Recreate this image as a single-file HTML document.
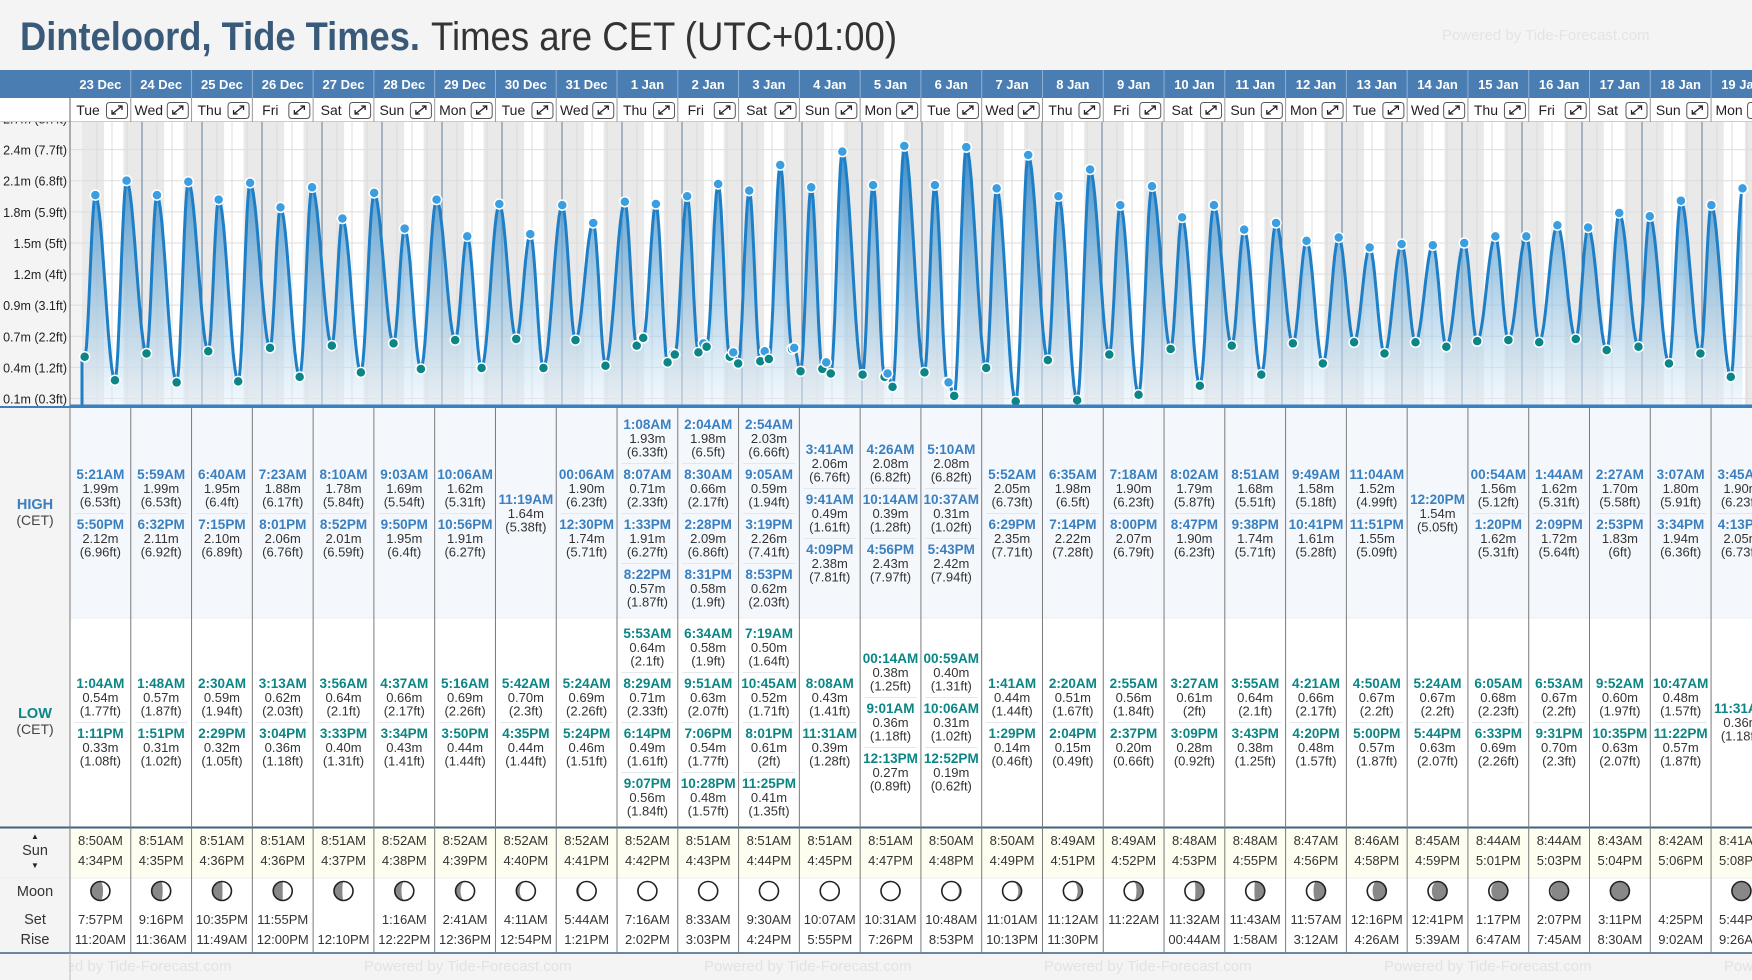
<!DOCTYPE html>
<html><head><meta charset="utf-8">
<style>
html,body{margin:0;padding:0;background:#f4f4f4;}
svg{display:block;font-family:"Liberation Sans",Arial,sans-serif;}
</style></head>
<body>
<svg id="root" xmlns="http://www.w3.org/2000/svg" width="1752" height="980" viewBox="0 0 1752 980">
<defs>
<linearGradient id="fillGrad" x1="0" y1="0" x2="0" y2="1">
<stop offset="0" stop-color="#2f86c6" stop-opacity="0.95"/>
<stop offset="0.55" stop-color="#7fb6dc" stop-opacity="0.6"/>
<stop offset="1" stop-color="#e6f2fb" stop-opacity="0.5"/>
</linearGradient>
<clipPath id="plotClip"><rect x="70" y="122" width="1682" height="284"/></clipPath>
<clipPath id="axisClip"><rect x="0" y="122" width="70" height="284"/></clipPath>
</defs>
<rect x="0" y="0" width="1752" height="980" fill="#f4f4f4"/>
<text x="20" y="50" font-size="40" font-weight="bold" fill="#3a5a7a" textLength="400" lengthAdjust="spacingAndGlyphs">Dinteloord, Tide Times.</text>
<text x="431" y="50" font-size="40" fill="#333" textLength="466" lengthAdjust="spacingAndGlyphs">Times are CET (UTC+01:00)</text>
<text x="1442" y="40" font-size="15" fill="#e4e4e4">Powered by Tide-Forecast.com</text>
<g id="chart"></g>
</svg>
<script>
const dates=['23 Dec','24 Dec','25 Dec','26 Dec','27 Dec','28 Dec','29 Dec','30 Dec','31 Dec','1 Jan','2 Jan','3 Jan','4 Jan','5 Jan','6 Jan','7 Jan','8 Jan','9 Jan','10 Jan','11 Jan','12 Jan','13 Jan','14 Jan','15 Jan','16 Jan','17 Jan','18 Jan','19 Jan'];
const weekdays=['Tue','Wed','Thu','Fri','Sat','Sun','Mon','Tue','Wed','Thu','Fri','Sat','Sun','Mon','Tue','Wed','Thu','Fri','Sat','Sun','Mon','Tue','Wed','Thu','Fri','Sat','Sun','Mon'];
const highTides=[
[['5:21AM',1.99],['5:50PM',2.12]],[['5:59AM',1.99],['6:32PM',2.11]],[['6:40AM',1.95],['7:15PM',2.10]],[['7:23AM',1.88],['8:01PM',2.06]],
[['8:10AM',1.78],['8:52PM',2.01]],[['9:03AM',1.69],['9:50PM',1.95]],[['10:06AM',1.62],['10:56PM',1.91]],[['11:19AM',1.64]],
[['00:06AM',1.90],['12:30PM',1.74]],[['1:08AM',1.93],['8:07AM',0.71],['1:33PM',1.91],['8:22PM',0.57]],
[['2:04AM',1.98],['8:30AM',0.66],['2:28PM',2.09],['8:31PM',0.58]],[['2:54AM',2.03],['9:05AM',0.59],['3:19PM',2.26],['8:53PM',0.62]],
[['3:41AM',2.06],['9:41AM',0.49],['4:09PM',2.38]],[['4:26AM',2.08],['10:14AM',0.39],['4:56PM',2.43]],[['5:10AM',2.08],['10:37AM',0.31],['5:43PM',2.42]],
[['5:52AM',2.05],['6:29PM',2.35]],[['6:35AM',1.98],['7:14PM',2.22]],[['7:18AM',1.90],['8:00PM',2.07]],[['8:02AM',1.79],['8:47PM',1.90]],
[['8:51AM',1.68],['9:38PM',1.74]],[['9:49AM',1.58],['10:41PM',1.61]],[['11:04AM',1.52],['11:51PM',1.55]],[['12:20PM',1.54]],
[['00:54AM',1.56],['1:20PM',1.62]],[['1:44AM',1.62],['2:09PM',1.72]],[['2:27AM',1.70],['2:53PM',1.83]],[['3:07AM',1.80],['3:34PM',1.94]],[['3:45AM',1.90],['4:13PM',2.05]]];
const lowTides=[
[['1:04AM',0.54],['1:11PM',0.33]],[['1:48AM',0.57],['1:51PM',0.31]],[['2:30AM',0.59],['2:29PM',0.32]],[['3:13AM',0.62],['3:04PM',0.36]],
[['3:56AM',0.64],['3:33PM',0.40]],[['4:37AM',0.66],['3:34PM',0.43]],[['5:16AM',0.69],['3:50PM',0.44]],[['5:42AM',0.70],['4:35PM',0.44]],
[['5:24AM',0.69],['5:24PM',0.46]],[['5:53AM',0.64],['8:29AM',0.71],['6:14PM',0.49],['9:07PM',0.56]],
[['6:34AM',0.58],['9:51AM',0.63],['7:06PM',0.54],['10:28PM',0.48]],[['7:19AM',0.50],['10:45AM',0.52],['8:01PM',0.61],['11:25PM',0.41]],
[['8:08AM',0.43],['11:31AM',0.39]],[['00:14AM',0.38],['9:01AM',0.36],['12:13PM',0.27]],[['00:59AM',0.40],['10:06AM',0.31],['12:52PM',0.19]],
[['1:41AM',0.44],['1:29PM',0.14]],[['2:20AM',0.51],['2:04PM',0.15]],[['2:55AM',0.56],['2:37PM',0.20]],[['3:27AM',0.61],['3:09PM',0.28]],
[['3:55AM',0.64],['3:43PM',0.38]],[['4:21AM',0.66],['4:20PM',0.48]],[['4:50AM',0.67],['5:00PM',0.57]],[['5:24AM',0.67],['5:44PM',0.63]],
[['6:05AM',0.68],['6:33PM',0.69]],[['6:53AM',0.67],['9:31PM',0.70]],[['9:52AM',0.60],['10:35PM',0.63]],[['10:47AM',0.48],['11:22PM',0.57]],[['11:31AM',0.36]]];
const sunrise=['8:50AM','8:51AM','8:51AM','8:51AM','8:51AM','8:52AM','8:52AM','8:52AM','8:52AM','8:52AM','8:51AM','8:51AM','8:51AM','8:51AM','8:50AM','8:50AM','8:49AM','8:49AM','8:48AM','8:48AM','8:47AM','8:46AM','8:45AM','8:44AM','8:44AM','8:43AM','8:42AM','8:41AM'];
const sunset=['4:34PM','4:35PM','4:36PM','4:36PM','4:37PM','4:38PM','4:39PM','4:40PM','4:41PM','4:42PM','4:43PM','4:44PM','4:45PM','4:47PM','4:48PM','4:49PM','4:51PM','4:52PM','4:53PM','4:55PM','4:56PM','4:58PM','4:59PM','5:01PM','5:03PM','5:04PM','5:06PM','5:08PM'];
const moonSet=['7:57PM','9:16PM','10:35PM','11:55PM','','1:16AM','2:41AM','4:11AM','5:44AM','7:16AM','8:33AM','9:30AM','10:07AM','10:31AM','10:48AM','11:01AM','11:12AM','11:22AM','11:32AM','11:43AM','11:57AM','12:16PM','12:41PM','1:17PM','2:07PM','3:11PM','4:25PM','5:44PM'];
const moonRise=['11:20AM','11:36AM','11:49AM','12:00PM','12:10PM','12:22PM','12:36PM','12:54PM','1:21PM','2:02PM','3:03PM','4:24PM','5:55PM','7:26PM','8:53PM','10:13PM','11:30PM','','00:44AM','1:58AM','3:12AM','4:26AM','5:39AM','6:47AM','7:45AM','8:30AM','9:02AM','9:26AM'];
const moonLit=[0.36,0.42,0.47,0.5,0.56,0.65,0.74,0.82,0.9,0.96,0.99,1.0,0.98,0.95,0.9,0.83,0.75,0.65,0.55,0.46,0.37,0.28,0.2,0.13,0.07,0.03,0,0.02];
const moonWaxing=[1,1,1,1,1,1,1,1,1,1,1,1,0,0,0,0,0,0,0,0,0,0,0,0,0,0,0,0];
const tickValues=[0.166,0.445,0.724,1.003,1.282,1.561,1.84,2.119,2.398,2.677];
const tickLabels=['0.1m (0.3ft)','0.4m (1.2ft)','0.7m (2.2ft)','0.9m (3.1ft)','1.2m (4ft)','1.5m (5ft)','1.8m (5.9ft)','2.1m (6.8ft)','2.4m (7.7ft)','2.7m (8.7ft)'];

const NS='http://www.w3.org/2000/svg';
const root=document.getElementById('chart');
function mk(tag,attrs,parent){const e=document.createElementNS(NS,tag);for(const k in attrs)e.setAttribute(k,attrs[k]);(parent||root).appendChild(e);return e;}
function txt(s,attrs,parent){const e=mk('text',attrs,parent);e.textContent=s;return e;}
function parseT(s){const m=s.match(/(\d+):(\d+)(AM|PM)/);let h=+m[1]%12;if(m[3]==='PM')h+=12;return (h+ +m[2]/60)/24;}
function ft(m){let v=Math.round(m*3.28084*100)/100;return '('+(+v.toFixed(2)).toString()+'ft)';}
const colX0=70,colW=60.78,chartX0=82,pxDay=60,plotTop=122,plotBot=406;
const xT=t=>chartX0+t*pxDay;
const yH=h=>417-h*111.5;
const colX=i=>colX0+i*colW;
const HIGH_C=513,LOW_C=722,PITCH=50;

let e=mk('rect',{x:0,y:70,width:1752,height:28,fill:'#4a7db2'});


e=mk('rect',{x:0,y:98,width:1752,height:24,fill:'#fff'});


mk('line',{x1:0,y1:122,x2:1752,y2:122,stroke:'#999','stroke-width':1});
e=mk('rect',{x:70,y:plotTop,width:1682,height:plotBot-plotTop,fill:'#f3f3f3'});


const plot=mk('g',{'clip-path':'url(#plotClip)'});


for(let i=0;i<dates.length+1;i++){
  const r=mk('rect',{x:xT(i),y:plotTop,width:pxDay,height:plotBot-plotTop,fill:'#e9e9e9'},plot);
  
  
  if(i<dates.length){
    const d=mk('rect',{x:xT(i+parseT(sunrise[i])),y:plotTop,width:(parseT(sunset[i])-parseT(sunrise[i]))*pxDay,height:plotBot-plotTop,fill:'#fff'},plot);
    
    
  }
}
for(let i=0;i<tickValues.length;i++){
  const g=mk('line',{x1:70,x2:1752,y1:yH(tickValues[i]),y2:yH(tickValues[i]),stroke:'#dedede','stroke-width':1},plot);
  
  
}
for(let i=0;i<=dates.length*4;i++){
  if(i%4===0)continue;
  const g=mk('line',{x1:xT(i/4),x2:xT(i/4),y1:plotTop,y2:plotBot,stroke:'#dcdcdc','stroke-width':1},plot);
  
  
}
for(let i=1;i<=dates.length;i++){
  const g=mk('line',{x1:xT(i),x2:xT(i),y1:plotTop,y2:plotBot,stroke:'#5f7d9b','stroke-width':1},plot);
  
  
}
const ext=[];
for(let i=0;i<dates.length;i++){
  (highTides[i]||[]).forEach(p=>ext.push({t:i+parseT(p[0]),h:p[1],hi:true}));
  (lowTides[i]||[]).forEach(p=>ext.push({t:i+parseT(p[0]),h:p[1],hi:false}));
}
ext.sort((a,b)=>a.t-b.t);
let pts=[];
for(let k=0;k<ext.length-1;k++){
  const a=ext[k],b=ext[k+1];
  for(let s=0;s<12;s++){const f=s/12;const h=a.h+(b.h-a.h)*(1-Math.cos(Math.PI*f))/2;pts.push([xT(a.t+(b.t-a.t)*f),yH(h)]);}
}
const last=ext[ext.length-1];pts.push([xT(last.t),yH(last.h)]);
const lineD='M'+pts.map(p=>p[0].toFixed(1)+','+p[1].toFixed(1)).join('L');
const area=mk('path',{d:lineD+`L${pts[pts.length-1][0]},${plotBot}L${pts[0][0]},${plotBot}Z`,fill:'url(#fillGrad)'},plot);


const ln=mk('path',{d:lineD,fill:'none',stroke:'#1f7fc6','stroke-width':3,'stroke-linejoin':'round'},plot);


const st=mk('line',{x1:chartX0,x2:chartX0,y1:plotBot,y2:pts[0][1],stroke:'#1f7fc6','stroke-width':3},plot);


ext.forEach(p=>{
  const c=mk('circle',{cx:xT(p.t),cy:yH(p.h),r:5,fill:p.hi?'#3a9ee0':'#0b8585',stroke:'#fff','stroke-width':1.5},plot);
  
  
});
e=mk('line',{x1:70,x2:1752,y1:406,y2:406,stroke:'#3a7fc0','stroke-width':3});


e=mk('rect',{x:0,y:plotTop,width:70,height:plotBot-plotTop+2,fill:'#f4f4f4'});


mk('line',{x1:70,x2:70,y1:98,y2:980,stroke:'#666','stroke-width':1});
const yAxisClip=mk('g',{'clip-path':'url(#axisClip)'});
for(let i=0;i<tickValues.length;i++){
  const y=yH(tickValues[i]);
  const t=txt(tickLabels[i],{x:67,y:y+5,'font-size':12.5,fill:'#222','text-anchor':'end'},yAxisClip);
  
  
}
e=mk('rect',{x:70,y:408,width:1682,height:210,fill:'#f4f8fc'});


e=mk('rect',{x:70,y:618,width:1682,height:209,fill:'#fff'});


e=mk('rect',{x:0,y:408,width:70,height:419,fill:'#f4f4f4'});


e=mk('rect',{x:0,y:828,width:1752,height:50,fill:'#fdfdf0'});


e=mk('rect',{x:0,y:878,width:1752,height:75,fill:'#fff'});


mk('rect',{x:0,y:828,width:70,height:125,fill:'#f4f4f4'});
mk('line',{x1:70,x2:1752,y1:618,y2:618,stroke:'#eef0f2','stroke-width':1});
mk('line',{x1:0,x2:1752,y1:827.5,y2:827.5,stroke:'#3f6283','stroke-width':2});
mk('line',{x1:0,x2:1752,y1:878,y2:878,stroke:'#eee','stroke-width':1});
mk('line',{x1:0,x2:1752,y1:953,y2:953,stroke:'#3f6283','stroke-width':1.5});
function lab(s,x,y,attrs,name){const t=txt(s,Object.assign({x:x,y:y,'text-anchor':'middle'},attrs));}
lab('HIGH',35,509,{'font-size':14.5,'font-weight':'bold',fill:'#3a7fc0'},'high-label');
lab('(CET)',35,525,{'font-size':14,fill:'#444'},'high-timezone-label');
lab('LOW',35,718,{'font-size':14.5,'font-weight':'bold',fill:'#0b8585'},'low-label');
lab('(CET)',35,734,{'font-size':14,fill:'#444'},'low-timezone-label');
lab('Sun',35,855,{'font-size':14.5,fill:'#333'},'sun-label');
lab('▲',35,839,{'font-size':8,fill:'#222'},'sunrise-arrow');
lab('▼',35,868,{'font-size':8,fill:'#222'},'sunset-arrow');
lab('Moon',35,896,{'font-size':14.5,fill:'#333'},'moon-label');
lab('Set',35,924,{'font-size':14.5,fill:'#333'},'moonset-label');
lab('Rise',35,944,{'font-size':14.5,fill:'#333'},'moonrise-label');

function entries(list,center,color,isHigh,cx){
  const n=list.length;const t0=center-((n-1)*PITCH+28)/2;
  list.forEach((p,k)=>{
    const ty=t0+k*PITCH;
    let a=txt(p[0],{x:cx,y:ty+5,'text-anchor':'middle','font-size':13.5,'font-weight':'bold',fill:color});
    
    
    a=txt(p[1].toFixed(2)+'m',{x:cx,y:ty+19,'text-anchor':'middle','font-size':13,fill:'#333'});
    
    
    a=txt(ft(p[1]),{x:cx,y:ty+32.5,'text-anchor':'middle','font-size':13,fill:'#333'});
    
    
    if(k<n-1)mk('line',{x1:cx-26,x2:cx+26,y1:ty+39.5,y2:ty+39.5,stroke:'#e4e8ec','stroke-width':1});
  });
}
function moonIcon(cx,cy,f,wax){
  const r=9.5;const g=mk('g',{});
  
  
  mk('circle',{cx:cx,cy:cy,r:r,fill:'#888'},g);
  if(f>0.005){
    const rx=Math.abs(1-2*f)*r;const s=wax?1:0;
    const s2=(f>0.5)?(wax?1:0):(wax?0:1);
    mk('path',{d:`M${cx},${cy-r}A${r},${r} 0 0 ${s} ${cx},${cy+r}A${rx},${r} 0 0 ${s2} ${cx},${cy-r}Z`,fill:'#fff'},g);
  }
  mk('circle',{cx:cx,cy:cy,r:r,fill:'none',stroke:'#222','stroke-width':1.6},g);
}
for(let i=0;i<dates.length;i++){
  const x=colX(i),cx=x+colW/2;
  let t=txt(dates[i],{x:cx,y:89,'text-anchor':'middle','font-size':13,'font-weight':'bold',fill:'#fff'});
  
  
  t=txt(weekdays[i],{x:x+18,y:115,'text-anchor':'middle','font-size':14,fill:'#222'});
  
  
  const b=mk('g',{});
  
  
  mk('rect',{x:x+36.5,y:102.5,width:21,height:16,rx:3,fill:'#fff',stroke:'#555','stroke-width':1},b);
  mk('path',{d:`M${x+42},114L${x+52},106M${x+48},106H${x+52}V110M${x+42},110V114H${x+46}`,fill:'none',stroke:'#222','stroke-width':1.3},b);
  if(i>0){
    mk('line',{x1:x,x2:x,y1:70,y2:98,stroke:'#8fb0d2','stroke-width':1});
    mk('line',{x1:x,x2:x,y1:98,y2:122,stroke:'#999','stroke-width':1});
  }
  mk('line',{x1:x,x2:x,y1:408,y2:953,stroke:'#7a7a7a','stroke-width':1});
  entries(highTides[i],HIGH_C,'#3a7fc0',true,cx);
  entries(lowTides[i],LOW_C,'#0b8585',false,cx);
  t=txt(sunrise[i],{x:cx,y:845,'text-anchor':'middle','font-size':13,fill:'#333'});
  
  
  t=txt(sunset[i],{x:cx,y:865,'text-anchor':'middle','font-size':13,fill:'#333'});
  
  
  if(moonLit[i]>0)moonIcon(cx,891,moonLit[i],moonWaxing[i]);
  t=txt(moonSet[i],{x:cx,y:924,'text-anchor':'middle','font-size':13,fill:'#333'});
  
  
  t=txt(moonRise[i],{x:cx,y:944,'text-anchor':'middle','font-size':13,fill:'#333'});
  
  
}
mk('line',{x1:0,x2:1752,y1:407,y2:407,stroke:'#3a7fc0','stroke-width':2});
const fg=mk('g',{});


for(let k=0;k<6;k++){
  const fx=24+k*340;
  const f=txt('Powered by Tide-Forecast.com',{x:fx,y:971,'font-size':15,fill:'#e2e2e2'},fg);
  
  
}
mk('rect',{x:0,y:954,width:70,height:26,fill:'#f4f4f4'});
mk('line',{x1:70,x2:70,y1:953,y2:980,stroke:'#bbb','stroke-width':1});
</script>
</body></html>
